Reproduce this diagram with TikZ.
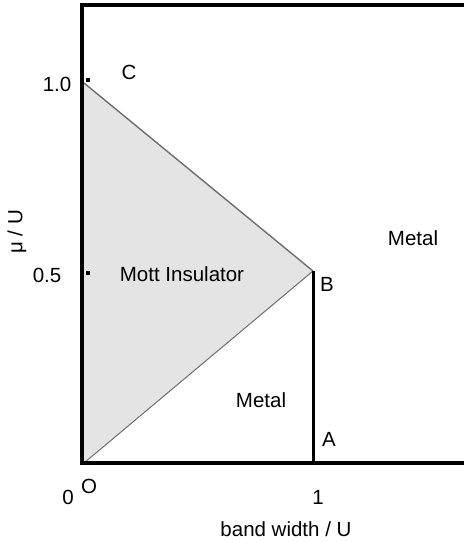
\documentclass[tikz,border=0pt]{standalone}
\usepackage{fontspec}
\setmainfont{Liberation Sans}
\usepackage{xcolor}
\usetikzlibrary{positioning,calc}
\definecolor{mottgray}{HTML}{E4E4E4}
\definecolor{edgegray}{HTML}{6E6E6E}

\begin{document}
\begin{tikzpicture}[
  x=1pt,y=-1pt,
  every node/.style={font=\fontsize{20.5}{24}\selectfont,inner sep=0pt},
  frame/.style={draw=black,line width=4pt},
  border/.style={draw=edgegray,line width=1.4pt},
  phase/.style={draw=black,line width=3pt},
  tickmark/.style={fill=black,minimum size=4pt}
]
\useasboundingbox (0,0) rectangle (464,542);
% corner points of the phase diagram
\coordinate (O) at (84,463);
\coordinate (C) at (84,83);
\coordinate (B) at (313,271);
\coordinate (A) at (313,463);
\fill[mottgray] (O) -- (C) -- (B) -- cycle;
\draw[border] (C) -- (B);
\draw[border,line width=1pt] (B) -- (O);
\draw[phase] (B) -- (A);
\draw[frame] (464,5) -- (82,5) -- (82,463) -- (464,463);
% ticks on the mu axis
\node[tickmark] (t1) at (88,80) {};
\node[tickmark] (t05) at (88,273) {};
\node (l1) at (57,84) {1.0};
\node (l05) at (47,275) {0.5};
\node[rotate=90] (ylab) at (17,232) {μ / U};
\node (lc) at (129,72) {C};
\node (lb) at (327,284) {B};
\node (la) at (329,439) {A};
\node (lo) at (89,486) {O};
\node (l0) at (68,497) {0};
\node (lx1) at (318,497) {1};
\node (xlab) at (286,529) {band width / U};
\node (mott) at (182,274) {Mott Insulator};
\node (metal1) at (413,238) {Metal};
\node (metal2) at (261,400) {Metal};
\end{tikzpicture}
\end{document}
